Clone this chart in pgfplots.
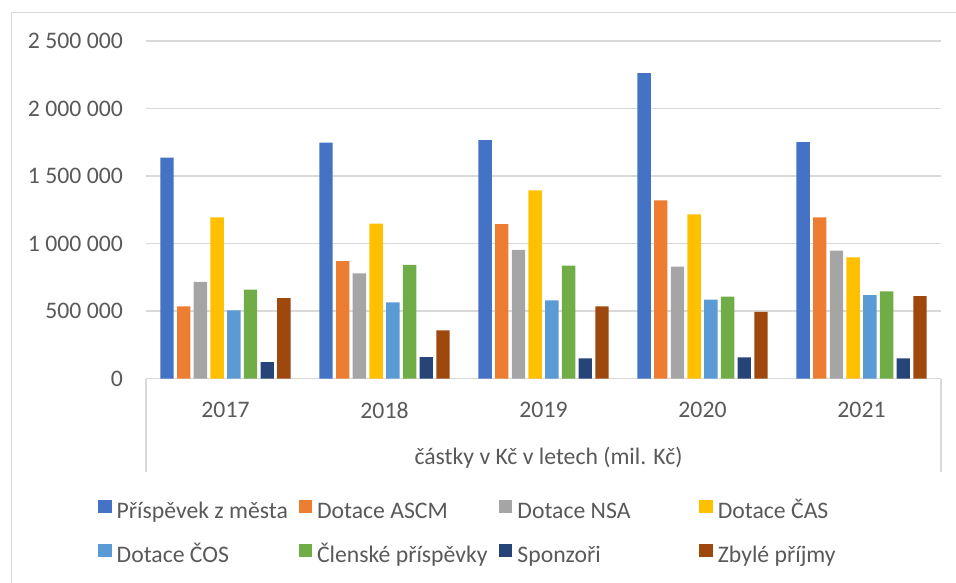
\documentclass[border=0pt]{standalone}
\usepackage{fontspec}
\setmainfont{Carlito}
\usepackage{pgfplots}
\pgfplotsset{compat=1.18}
\usepackage{pgfplotstable}
\definecolor{c1}{HTML}{4472C4}
\definecolor{c2}{HTML}{ED7D31}
\definecolor{c3}{HTML}{A5A5A5}
\definecolor{c4}{HTML}{FFC000}
\definecolor{c5}{HTML}{5B9BD5}
\definecolor{c6}{HTML}{70AD47}
\definecolor{c7}{HTML}{264478}
\definecolor{c8}{HTML}{9E480E}
\definecolor{txt}{HTML}{595959}
\definecolor{grd}{HTML}{D9D9D9}
\newcommand{\fs}{\fontsize{23.7pt}{28pt}\selectfont}
\newcommand{\lb}[1]{\makebox[182pt][l]{#1}}

\pgfplotstableread{
x P A N C O L S Z
0 1636000 535000 716000 1194000 506000 659000 123000 597000
1 1747000 871000 780000 1148000 565000 842000 160000 358000
2 1767000 1145000 953000 1394000 580000 837000 150000 535000
3 2263000 1320000 829000 1217000 585000 607000 158000 494000
4 1752000 1194000 948000 898000 619000 647000 150000 612000
}\data

\begin{document}
\begin{tikzpicture}
\useasboundingbox (-146pt,-203.3pt) rectangle (810pt,378.7pt);
\begin{axis}[
  scale only axis, width=795pt, height=337.7pt,
  ybar=3.3pt, bar width=13.4pt,
  xmin=-0.5, xmax=4.5, ymin=0, ymax=2500000,
  scaled y ticks=false,
  xtick={0,1,2,3,4}, xticklabels={2017,2018,2019,2020,2021},
  ytick={0,500000,1000000,1500000,2000000,2500000},
  yticklabels={0,500 000,1 000 000,1 500 000,2 000 000,2 500 000},
  axis x line*=bottom, axis y line*=left,
  y axis line style={draw=none},
  x axis line style={draw=grd, line width=1.5pt},
  ymajorgrids, major grid style={draw=grd, line width=1.5pt},
  major tick length=0pt,
  xticklabel style={anchor=center, yshift=-31.5pt, text=txt, font=\fs},
  yticklabel style={anchor=east, inner sep=0pt, xshift=-23pt, text=txt, font=\fs},
  xlabel={částky v Kč v letech (mil. Kč)},
  xlabel style={at={(axis description cs:0.5,0)}, anchor=center, yshift=-79.3pt, xshift=5pt, text=txt, font=\fs},
  legend columns=4,
  legend style={at={(axis description cs:0,0)}, anchor=north west, xshift=-47.7pt, yshift=-121.3pt,
    draw=none, fill=none, inner sep=0pt, outer sep=0pt, font=\fs, text=txt,
    row sep=20pt, column sep=0pt,
    nodes={inner sep=0pt, text height=16pt, text depth=5pt},
    /tikz/every odd column/.append style={column sep=5pt}},
  legend image code/.code={\draw[#1,draw=none] (0pt,0pt) rectangle (13.4pt,13.4pt);},
]
\addplot[fill=c1, draw=none] table[x=x, y=P] {\data};
\addplot[fill=c2, draw=none] table[x=x, y=A] {\data};
\addplot[fill=c3, draw=none] table[x=x, y=N] {\data};
\addplot[fill=c4, draw=none] table[x=x, y=C] {\data};
\addplot[fill=c5, draw=none] table[x=x, y=O] {\data};
\addplot[fill=c6, draw=none] table[x=x, y=L] {\data};
\addplot[fill=c7, draw=none] table[x=x, y=S] {\data};
\addplot[fill=c8, draw=none] table[x=x, y=Z] {\data};
\addlegendentry{\lb{Příspěvek z města}}
\addlegendentry{\lb{Dotace ASCM}}
\addlegendentry{\lb{Dotace NSA}}
\addlegendentry{\lb{Dotace ČAS}}
\addlegendentry{\lb{Dotace ČOS}}
\addlegendentry{\lb{Členské příspěvky}}
\addlegendentry{\lb{Sponzoři}}
\addlegendentry{\lb{Zbylé příjmy}}
\end{axis}
\draw[grd, line width=1.5pt] (0,0) -- (0,-93.6pt) (795pt,0) -- (795pt,-93.6pt);
\draw[grd, line width=1.5pt] (-134.3pt,-260pt) rectangle (850pt,366.4pt);
\end{tikzpicture}
\end{document}
